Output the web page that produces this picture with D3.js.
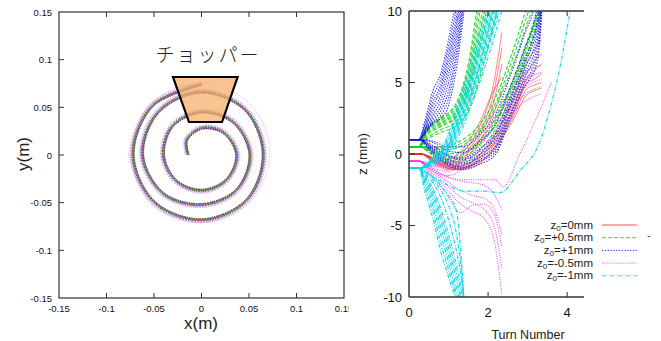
<!DOCTYPE html>
<html>
<head>
<meta charset="utf-8">
<script src="https://cdn.jsdelivr.net/npm/d3@7"></script>
<style>
  body { margin: 0; background: #fff; }
  svg { display: block; font-family: "Liberation Sans", Arial, sans-serif; }
</style>
</head>
<body>
<div id="chart"></div>
<script>
// ---- left panel: beam orbit (x, y in m) ----
const xyTicks = [-0.15, -0.1, -0.05, 0, 0.05, 0.1, 0.15];
// orbit radius (m) every 1/8 turn, clockwise starting on the left side
const spiralR = [0.014, 0.022, 0.028, 0.033, 0.037, 0.037, 0.037, 0.038, 0.040, 0.043, 0.045, 0.048, 0.051, 0.052,
  0.052, 0.057, 0.062, 0.064, 0.066, 0.066, 0.065, 0.067, 0.068, 0.070, 0.072, 0.073, 0.074];
const strandColors = ['#c83030', '#209020', '#2020c0', '#c030c0', '#20a8a8', '#b83a20', '#408020', '#2020e0', '#e040e0'];
const strandOffsets = [-0.0012, -0.0008, -0.0004, 0, 0.0004, 0.0008, 0.0012, 0.0022, 0.0032];
const outerR = [0.077, 0.076, 0.075, 0.074, 0.072, 0.071, 0.071, 0.074, 0.077];
const chopperX = [-0.030, 0.038, 0.0216, -0.0132];
const chopperY = [0.0818, 0.0818, 0.0346, 0.0346];

// ---- right panel: z (mm) vs turn number ----
const zTicks = [-10, -5, 0, 5, 10];
const turnTicks = [0, 2, 4];
const legendLabels = ['=0mm', '=+0.5mm', '=+1mm', '=-0.5mm', '=-1mm'];

const redTurnsA = [0, 0.3, 0.6, 1.0, 1.4, 1.8, 2.1, 2.35];
const redLinesA = [
  [0, 0, -0.3, -0.6, 0.2, 2.0, 4.4, 8.5],
  [0, 0, -0.4, -0.8, 0.0, 1.6, 3.8, 7.4],
  [0, 0, -0.5, -1.0, -0.2, 1.3, 3.2, 6.3],
  [0, 0, -0.2, -0.4, 0.5, 2.3, 4.2, 5.4],
  [0, 0, -0.6, -1.1, -0.4, 1.0, 2.6, 4.4]
];
const redTurnsB = [0, 0.3, 0.7, 1.2, 1.7, 2.2, 2.6, 3.0, 3.15, 3.35];
const redLinesB = [
  [0, 0, -0.5, -0.9, -0.3, 1.5, 3.5, 6.5, 7.2, 8.0],
  [0, 0, -0.6, -1.0, -0.5, 1.2, 3.0, 5.8, 6.4, 7.0],
  [0, 0, -0.4, -0.8, -0.4, 1.0, 2.8, 5.3, 5.8, 6.3],
  [0, 0, -0.7, -1.1, -0.6, 0.8, 2.6, 5.0, 5.2, 5.6],
  [0, 0, -0.5, -1.0, -0.7, 0.6, 2.4, 4.6, 4.8, 5.0],
  [0, 0, -0.6, -1.1, -0.8, 0.5, 2.2, 4.2, 4.4, 4.6]
];
const greenTurnsUp = [0, 0.25, 0.45, 0.8, 1.2, 1.5, 1.8, 2.1, 2.4];
const greenLinesUp = [
  [0.5, 0.5, 1.9, 2.5, 3.6, 6.3, 11.5, 15, 18],
  [0.5, 0.5, 1.8, 2.4, 3.4, 5.9, 10.7, 14.5, 17.5],
  [0.5, 0.5, 1.7, 2.3, 3.2, 5.5, 10.0, 14, 17],
  [0.5, 0.5, 1.6, 2.2, 3.0, 5.1, 9.2, 13, 16.5],
  [0.5, 0.5, 1.5, 2.1, 2.9, 4.8, 8.6, 12.5, 16],
  [0.5, 0.5, 1.4, 2.0, 2.7, 4.5, 8.0, 11.8, 15.5],
  [0.5, 0.5, 1.3, 1.9, 2.6, 4.2, 7.5, 11, 15],
  [0.5, 0.5, 1.1, 1.7, 2.3, 3.6, 6.4, 9.8, 14],
  [0.5, 0.5, 1.0, 1.5, 2.0, 3.0, 5.4, 8.6, 12]
];
const greenTurnsDown = [0, 0.25, 0.6, 1.0, 1.35, 1.8, 2.2, 2.6, 3.0, 3.35];
const greenLinesDown = [
  [0.5, 0.5, 0.3, 0.0, 0.2, 1.0, 2.6, 5.0, 8.0, 10.8],
  [0.5, 0.5, 0.2, -0.2, 0.0, 0.8, 2.4, 4.8, 7.8, 10.6],
  [0.5, 0.5, 0.1, -0.3, -0.2, 0.7, 2.2, 4.6, 7.6, 10.5],
  [0.5, 0.5, 0.0, -0.5, -0.5, 0.3, 1.8, 4.2, 7.2, 10.2],
  [0.5, 0.5, -0.1, -0.7, -0.8, 0.0, 1.4, 3.8, 6.8, 10.0],
  [0.5, 0.5, 0.4, 0.3, 0.6, 1.6, 3.3, 6.0, 9.2, 12],
  [0.5, 0.5, 0.45, 0.45, 0.8, 1.8, 3.6, 6.5, 9.8, 12.5],
  [0.5, 0.5, 0.5, 0.6, 1.0, 2.1, 4.0, 7.0, 10.4, 13]
];
const blueTurnsUp = [0, 0.25, 0.4, 0.6, 0.8, 1.0, 1.2, 1.4];
const blueLinesUp = [
  [1, 1, 2.3, 4.4, 5.6, 8.0, 10.8, 13],
  [1, 1, 2.1, 4.0, 5.2, 7.5, 10.2, 13],
  [1, 1, 1.9, 3.6, 4.8, 7.0, 9.6, 12.5],
  [1, 1, 1.8, 3.3, 4.5, 6.6, 9.2, 12],
  [1, 1, 1.7, 3.0, 4.1, 6.1, 8.8, 12],
  [1, 1, 1.6, 2.7, 3.7, 5.6, 8.3, 11.5],
  [1, 1, 1.5, 2.5, 3.3, 5.0, 7.8, 11.2],
  [1, 1, 1.5, 2.3, 3.0, 4.4, 7.2, 11],
  [1, 1, 1.4, 2.2, 2.7, 3.9, 6.7, 10.6],
  [1, 1, 1.4, 2.1, 2.5, 3.4, 6.0, 10.2]
];
const blueTurnsDown = [0, 0.25, 0.6, 1.0, 1.35, 1.8, 2.2, 2.5, 2.9, 3.25, 3.4];
const blueLinesDown = [
  [1, 1, 0.0, -0.8, -1.1, -0.7, 0.0, 2.0, 4.6, 6.5, 12],
  [1, 1, 0.1, -0.7, -1.0, -0.5, 0.2, 2.3, 4.9, 7.0, 12.2],
  [1, 1, 0.2, -0.6, -0.9, -0.4, 0.4, 2.5, 5.2, 7.5, 12.5],
  [1, 1, 0.3, -0.5, -0.7, -0.2, 0.6, 2.8, 5.5, 8.0, 12.8],
  [1, 1, 0.4, -0.4, -0.6, 0.0, 0.9, 3.0, 5.8, 8.5, 13],
  [1, 1, 0.5, -0.2, -0.4, 0.2, 1.2, 3.3, 6.2, 9.0, 13.2],
  [1, 1, 0.6, -0.1, -0.3, 0.4, 1.5, 3.6, 6.5, 9.5, 13.5],
  [1, 1, 0.8, 0.2, 0.1, 0.9, 2.1, 4.2, 7.2, 10.5, 14],
  [1, 1, 0.9, 0.5, 0.5, 1.4, 2.8, 5.0, 8.2, 11.5, 15]
];
const pinkTurnsDown = [0, 0.25, 0.5, 0.9, 1.3, 1.6, 1.9, 2.15, 2.35];
const pinkLinesDown = [
  [-0.5, -0.5, -0.9, -1.5, -1.9, -2.0, -2.2, -2.8, -3.9],
  [-0.5, -0.5, -1.0, -1.8, -2.5, -2.9, -3.1, -3.8, -5.7],
  [-0.5, -0.5, -1.1, -2.0, -3.0, -3.4, -3.9, -5.0, -8.0],
  [-0.5, -0.5, -1.2, -2.3, -3.5, -4.0, -4.5, -6.0, -9.8],
  [-0.5, -0.5, -1.3, -2.6, -4.1, -3.6, -3.5, -4.2, -6.5]
];
const pinkTurnsMid = [0, 0.25, 0.6, 1.0, 1.4, 1.8, 2.2, 2.6, 3.0, 3.35];
const pinkLinesMid = [
  [-0.5, -0.5, -0.6, -0.3, 0.3, 1.5, 3.0, 4.6, 5.8, 6.2],
  [-0.5, -0.5, -0.8, -0.6, 0.0, 1.0, 2.5, 4.1, 5.3, 5.7],
  [-0.5, -0.5, -0.9, -0.9, -0.4, 0.6, 2.0, 3.6, 4.8, 5.2],
  [-0.5, -0.5, -1.0, -1.2, -0.7, 0.3, 1.6, 3.2, 4.3, 4.7],
  [-0.5, -0.5, -1.2, -1.5, -1.0, 0.0, 1.2, 2.8, 3.8, 4.2]
];
const pinkTurnsOut = [0, 0.25, 0.7, 1.37, 2.18, 2.38, 2.8, 3.3, 3.6];
const pinkLinesOut = [[-0.5, -0.5, -1.3, -1.8, -1.8, -2.3, 0.0, 3.0, 5.0]];
const cyanTurnsDown = [0, 0.25, 0.4, 0.6, 0.8, 1.0, 1.2, 1.3, 1.4];
const cyanLinesDown = [
  [-1, -1, -2.6, -4.5, -6.8, -8.6, -10.4, -11.5, -12.5],
  [-1, -1, -2.3, -4.0, -6.2, -8.1, -10.1, -11.2, -12.2],
  [-1, -1, -2.0, -3.6, -5.6, -7.6, -9.8, -11, -12],
  [-1, -1, -1.85, -3.2, -5.1, -7.1, -9.3, -10.5, -11.8],
  [-1, -1, -1.7, -2.9, -4.6, -6.6, -8.8, -10, -11.5],
  [-1, -1, -1.6, -2.6, -4.2, -6.1, -8.3, -9.5, -11],
  [-1, -1, -1.5, -2.4, -3.8, -5.6, -7.8, -9, -10.5],
  [-1, -1, -1.4, -2.0, -3.0, -4.6, -6.8, -8.2, -10.2],
  [-1, -1, -1.3, -1.8, -2.5, -3.6, -5.6, -7.5, -10.6],
  [-1, -1, -1.2, -1.6, -2.2, -2.9, -4.0, -6.5, -10.8]
];
const cyanTurnsUp = [0, 0.25, 0.6, 1.0, 1.3, 1.6, 1.9, 2.2, 2.5];
const cyanLinesUp = [
  [-1, -1, -0.2, 1.4, 4.0, 6.8, 9.6, 12.5, 15],
  [-1, -1, -0.3, 1.2, 3.6, 6.3, 9.1, 12, 14.5],
  [-1, -1, -0.35, 1.0, 3.3, 5.9, 8.7, 11.5, 14],
  [-1, -1, -0.4, 0.8, 3.0, 5.6, 8.4, 11.2, 13.8],
  [-1, -1, -0.45, 0.7, 2.8, 5.3, 8.1, 10.9, 13.6],
  [-1, -1, -0.5, 0.6, 2.6, 5.0, 7.8, 10.6, 13.5],
  [-1, -1, -0.55, 0.5, 2.4, 4.7, 7.4, 10.2, 13],
  [-1, -1, -0.6, 0.4, 2.2, 4.5, 7.1, 9.8, 12.8],
  [-1, -1, -0.65, 0.3, 2.0, 4.2, 6.8, 9.5, 12.4],
  [-1, -1, -0.7, 0.2, 1.8, 4.0, 6.5, 9.2, 12],
  [-1, -1, -0.8, 0.0, 1.5, 3.6, 5.9, 8.6, 11.5]
];
const cyanTurnsOut = [0, 0.25, 0.6, 1.0, 1.4, 1.9, 2.3, 2.8, 3.3, 3.6, 3.85, 4.08, 4.2];
const cyanLinesOut = [[-1, -1, -1.6, -2.2, -2.6, -2.6, -2.7, -1.2, 0.8, 3.5, 6.5, 10, 11.5]];

const styles = {
  red: { color: '#f02828', dash: null, width: 0.75, opacity: 0.75 },
  green: { color: '#10d010', dash: '4,2', width: 1.1, opacity: 0.85 },
  blue: { color: '#1010e8', dash: '1.4,1.4', width: 1.1, opacity: 0.85 },
  pink: { color: '#f030f0', dash: '1,1.3', width: 1.1, opacity: 0.85 },
  cyan: { color: '#00d8e8', dash: '4,1.5,1,1.5', width: 1.2, opacity: 0.9 }
};

const width = 661, height = 341;
const svg = d3.select('#chart').append('svg')
  .attr('width', width).attr('height', height);

// ================= left panel =================
const xL = d3.scaleLinear().domain([-0.15, 0.15]).range([59, 344]);
const yL = d3.scaleLinear().domain([-0.15, 0.15]).range([298, 12]);
const left = svg.append('g');

const polar = d3.line()
  .x(d => xL(d[0])).y(d => yL(d[1]))
  .curve(d3.curveCatmullRom);

strandOffsets.forEach((off, i) => {
  const pts = spiralR.map((r, k) => {
    const a = Math.PI - k * Math.PI / 4;
    return [(r + off) * Math.cos(a), (r + off) * Math.sin(a)];
  });
  left.append('path')
    .attr('d', polar(pts))
    .attr('fill', 'none')
    .attr('stroke', strandColors[i])
    .attr('stroke-width', i > 6 ? 0.7 : 1)
    .attr('stroke-dasharray', i % 2 ? '2,1' : '1.5,0.8')
    .attr('stroke-dashoffset', i * 0.6)
    .attr('opacity', i > 6 ? 0.6 : 0.9);
});

left.append('path')
  .attr('d', polar(outerR.map((r, k) => {
    const a = Math.PI - k * Math.PI / 4;
    return [r * Math.cos(a), r * Math.sin(a)];
  })))
  .attr('fill', 'none')
  .attr('stroke', '#f060f0')
  .attr('stroke-width', 0.7)
  .attr('stroke-dasharray', '1,1')
  .attr('opacity', 0.7);

left.append('path')
  .attr('d', d3.line().x(d => xL(d[0])).y(d => yL(d[1])).curve(d3.curveLinearClosed)(chopperX.map((x, i) => [x, chopperY[i]])))
  .attr('fill', '#f5ae68')
  .attr('fill-opacity', 0.72)
  .attr('stroke', '#000')
  .attr('stroke-width', 2.2)
  .attr('stroke-linejoin', 'miter');

left.append('text')
  .attr('x', 208).attr('y', 62)
  .attr('text-anchor', 'middle')
  .attr('font-family', '"Noto Sans CJK JP", sans-serif')
  .attr('font-weight', 300)
  .attr('font-size', 19)
  .attr('letter-spacing', 2)
  .attr('fill', '#222')
  .text('チョッパー');

left.append('rect')
  .attr('x', 59).attr('y', 12).attr('width', 285).attr('height', 286)
  .attr('fill', 'none').attr('stroke', '#333').attr('stroke-width', 1.2);

const inner = xyTicks.slice(1, -1);
inner.forEach(v => {
  left.append('line').attr('x1', xL(v)).attr('x2', xL(v)).attr('y1', 298).attr('y2', 293).attr('stroke', '#333');
  left.append('line').attr('x1', xL(v)).attr('x2', xL(v)).attr('y1', 12).attr('y2', 17).attr('stroke', '#333');
  left.append('line').attr('y1', yL(v)).attr('y2', yL(v)).attr('x1', 59).attr('x2', 64).attr('stroke', '#333');
  left.append('line').attr('y1', yL(v)).attr('y2', yL(v)).attr('x1', 344).attr('x2', 339).attr('stroke', '#333');
});

left.selectAll('.xl').data(xyTicks).enter().append('text')
  .attr('x', d => xL(d)).attr('y', 312)
  .attr('text-anchor', 'middle').attr('font-size', 9.5).attr('fill', '#111')
  .text(d => d);
left.selectAll('.yl').data(xyTicks).enter().append('text')
  .attr('x', 52).attr('y', d => yL(d) + 3.5)
  .attr('text-anchor', 'end').attr('font-size', 9.5).attr('fill', '#111')
  .text(d => d);

left.append('text').attr('x', 201).attr('y', 329)
  .attr('text-anchor', 'middle').attr('font-size', 17).attr('fill', '#222').text('x(m)');
left.append('text').attr('transform', 'translate(29,154) rotate(-90)')
  .attr('text-anchor', 'middle').attr('font-size', 17).attr('fill', '#222').text('y(m)');

// ================= right panel =================
svg.append('rect').attr('x', 349).attr('y', 0).attr('width', 312).attr('height', height).attr('fill', '#fff');

const xR = d3.scaleLinear().domain([0, 4.4]).range([409, 583]);
const yR = d3.scaleLinear().domain([-10, 10]).range([297, 11]);
const right = svg.append('g');

svg.append('clipPath').attr('id', 'clipR')
  .append('rect').attr('x', 409).attr('y', 11).attr('width', 174).attr('height', 286);

const plot = right.append('g').attr('clip-path', 'url(#clipR)');
const traj = d3.line()
  .x(d => xR(d[0])).y(d => yR(d[1]))
  .curve(d3.curveMonotoneX);

function drawFamily(turns, lines, style) {
  lines.forEach((z, j) => {
    plot.append('path')
      .attr('d', traj(turns.map((t, i) => [t, z[i]])))
      .attr('fill', 'none')
      .attr('stroke', style.color)
      .attr('stroke-width', style.width)
      .attr('stroke-dasharray', style.dash)
      .attr('stroke-dashoffset', j * 0.7)
      .attr('opacity', style.opacity);
  });
}

drawFamily(redTurnsA, redLinesA, styles.red);
drawFamily(redTurnsB, redLinesB, styles.red);
drawFamily(greenTurnsUp, greenLinesUp, styles.green);
drawFamily(greenTurnsDown, greenLinesDown, styles.green);
drawFamily(blueTurnsUp, blueLinesUp, styles.blue);
drawFamily(blueTurnsDown, blueLinesDown, styles.blue);
drawFamily(pinkTurnsDown, pinkLinesDown, styles.pink);
drawFamily(pinkTurnsMid, pinkLinesMid, styles.pink);
drawFamily(pinkTurnsOut, pinkLinesOut, styles.pink);
drawFamily(cyanTurnsDown, cyanLinesDown, styles.cyan);
drawFamily(cyanTurnsUp, cyanLinesUp, styles.cyan);
drawFamily(cyanTurnsOut, cyanLinesOut, styles.cyan);

// frame: left, top, bottom
right.append('line').attr('x1', 409).attr('x2', 409).attr('y1', 11).attr('y2', 297).attr('stroke', '#333').attr('stroke-width', 1.5);
right.append('line').attr('x1', 409).attr('x2', 584).attr('y1', 11).attr('y2', 11).attr('stroke', '#333').attr('stroke-width', 1.5);
right.append('line').attr('x1', 409).attr('x2', 584).attr('y1', 297).attr('y2', 297).attr('stroke', '#333').attr('stroke-width', 1.5);

zTicks.slice(1, -1).forEach(v => {
  right.append('line').attr('x1', 409).attr('x2', 415).attr('y1', yR(v)).attr('y2', yR(v)).attr('stroke', '#333');
});
turnTicks.slice(1).forEach(v => {
  right.append('line').attr('x1', xR(v)).attr('x2', xR(v)).attr('y1', 11).attr('y2', 16).attr('stroke', '#333');
  right.append('line').attr('x1', xR(v)).attr('x2', xR(v)).attr('y1', 297).attr('y2', 292).attr('stroke', '#333');
});

right.selectAll('.zl').data(zTicks).enter().append('text')
  .attr('x', 402).attr('y', d => yR(d) + 4.5)
  .attr('text-anchor', 'end').attr('font-size', 13).attr('fill', '#111')
  .text(d => d);
right.selectAll('.tl').data(turnTicks).enter().append('text')
  .attr('x', d => xR(d)).attr('y', 317)
  .attr('text-anchor', 'middle').attr('font-size', 13).attr('fill', '#111')
  .text(d => d);

right.append('text').attr('x', 528).attr('y', 339)
  .attr('text-anchor', 'middle').attr('font-size', 12.5).attr('fill', '#222').text('Turn Number');
right.append('text').attr('transform', 'translate(367,154) rotate(-90)')
  .attr('text-anchor', 'middle').attr('font-size', 13.5).attr('fill', '#222').text('z (mm)');

// legend
const legendStyles = [styles.red, styles.green, styles.blue, styles.pink, styles.cyan];
legendLabels.forEach((lab, i) => {
  const y = 225 + i * 12.7;
  const t = right.append('text')
    .attr('x', 593).attr('y', y + 3.5)
    .attr('text-anchor', 'end').attr('font-size', 11.5).attr('fill', '#222');
  t.append('tspan').text('z');
  t.append('tspan').attr('dy', 2).attr('font-size', 8).text('0');
  t.append('tspan').attr('dy', -2).text(lab);
  right.append('line')
    .attr('x1', 602).attr('x2', 637).attr('y1', y).attr('y2', y)
    .attr('stroke', legendStyles[i].color)
    .attr('stroke-width', 1)
    .attr('stroke-dasharray', legendStyles[i].dash)
    .attr('opacity', 0.8);
});
right.append('text').attr('x', 649).attr('y', 239)
  .attr('text-anchor', 'middle').attr('font-size', 10).attr('fill', '#333').text('-');
</script>
</body>
</html>
